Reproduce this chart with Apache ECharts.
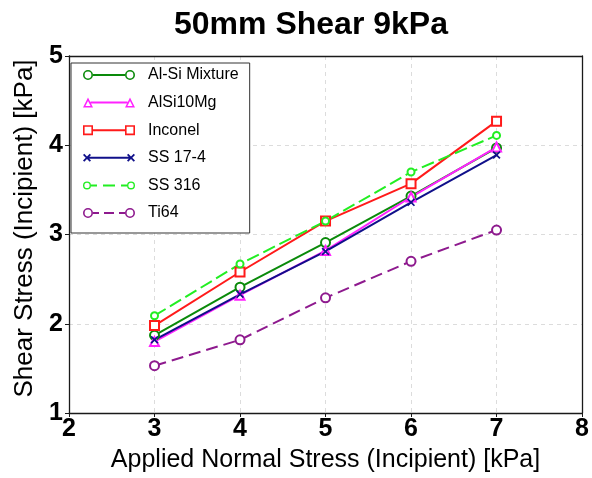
<!DOCTYPE html>
<html>
<head>
<meta charset="utf-8">
<script src="https://cdn.jsdelivr.net/npm/echarts@6/dist/echarts.min.js"></script>
<style>
html,body{margin:0;padding:0;background:#fff;}
#chart{width:592px;height:478px;}
</style>
</head>
<body>
<div id="chart"></div>
<script>
// ---- data ----
const xValues = [3, 4, 5, 6, 7];
const seriesNames = ['Al-Si Mixture', 'AlSi10Mg', 'Inconel', 'SS 17-4', 'SS 316', 'Ti64'];
const alSiMixture = [1.87, 2.41, 2.91, 3.43, 3.97];
const alSi10Mg    = [1.80, 2.32, 2.82, 3.42, 3.98];
const inconel     = [1.98, 2.58, 3.15, 3.57, 4.27];
const ss174       = [1.82, 2.33, 2.81, 3.36, 3.89];
const ss316       = [2.09, 2.67, 3.15, 3.70, 4.11];
const ti64        = [1.53, 1.82, 2.29, 2.70, 3.05];
const xTicks = [2, 3, 4, 5, 6, 7, 8];
const yTicks = [1, 2, 3, 4, 5];

const FONT = "'Liberation Sans', Arial, Helvetica, sans-serif";
const colors = ['#0a8a0a', '#ff22ff', '#ff1a1a', '#10108a', '#22ee22', '#8e1a8e'];

function pairs(vals) { return xValues.map((x, i) => [x, vals[i]]); }

// legend icon paths (width 52)
function ring(cx, cy, r, t) {
  const ri = r - t;
  return `M${cx - r},${cy}A${r},${r} 0 1,1 ${cx + r},${cy}A${r},${r} 0 1,1 ${cx - r},${cy}Z` +
         `M${cx - ri},${cy}A${ri},${ri} 0 1,0 ${cx + ri},${cy}A${ri},${ri} 0 1,0 ${cx - ri},${cy}Z`;
}
function bar(x1, x2, cy, h) { return `M${x1},${cy - h / 2}H${x2}V${cy + h / 2}H${x1}Z`; }
function sq(cx, cy, s, t) {
  const a = s / 2, b = a - t;
  return `M${cx - a},${cy - a}H${cx + a}V${cy + a}H${cx - a}Z` +
         `M${cx - b},${cy - b}V${cy + b}H${cx + b}V${cy - b}Z`;
}
function tri(cx) {
  return `M${cx - 5},10L${cx},0L${cx + 5},10Z` +
         `M${cx - 2.57},8.5L${cx + 2.57},8.5L${cx},3.35Z`;
}
function cross(cx, cy, s, t) {
  const a = s / 2, d = t / 1.414;
  return `M${cx - a},${cy - a + d}L${cx - a + d},${cy - a}L${cx},${cy - d}L${cx + a - d},${cy - a}L${cx + a},${cy - a + d}` +
         `L${cx + d},${cy}L${cx + a},${cy + a - d}L${cx + a - d},${cy + a}L${cx},${cy + d}L${cx - a + d},${cy + a}` +
         `L${cx - a},${cy + a - d}L${cx - d},${cy}Z`;
}
const legendIcons = [
  'path://' + ring(5, 5, 5, 1.6) + bar(10, 42, 5, 2) + ring(47, 5, 5, 1.6),
  'path://' + tri(5) + bar(7.5, 44.5, 5, 2) + tri(47),
  'path://' + sq(5, 5, 10, 1.6) + bar(10, 42, 5, 2) + sq(47, 5, 10, 1.6),
  'path://' + cross(4, 5, 8, 1.8) + bar(4, 48, 5, 2) + cross(48, 5, 8, 1.8),
  'path://' + ring(4, 5, 4, 1.4) + bar(8, 14, 5, 2) + bar(20, 32, 5, 2) + bar(38, 44, 5, 2) + ring(48, 5, 4, 1.4),
  'path://' + ring(5, 5, 5, 1.6) + bar(10, 16, 5, 2) + bar(21, 31, 5, 2) + bar(36, 42, 5, 2) + ring(47, 5, 5, 1.6)
];

const xMarker = 'path://M0,1.5L1.5,0L5,3.5L8.5,0L10,1.5L6.5,5L10,8.5L8.5,10L5,6.5L1.5,10L0,8.5L3.5,5Z';
const seriesData = [alSiMixture, alSi10Mg, inconel, ss174, ss316, ti64];
const symbols = ['emptyCircle', 'emptyTriangle', 'emptyRect', xMarker, 'emptyCircle', 'emptyCircle'];
const symbolSizes = [9, 9, 9, 8, 7, 9];
const dashes = ['solid', 'solid', 'solid', 'solid', [13, 5], [12, 6]];

const AX = '#1a1a1a';
const chart = echarts.init(document.getElementById('chart'), null, { renderer: 'canvas' });
const frameAxis = {
  show: true,
  axisLine: { show: true, lineStyle: { color: AX, width: 1.3 } },
  axisTick: { show: false }, axisLabel: { show: false }, splitLine: { show: false },
  z: 5
};
const option = {
  backgroundColor: '#fff',
  animation: false,
  title: {
    text: '50mm Shear 9kPa',
    left: 174, top: 9, padding: 0,
    textStyle: { fontFamily: FONT, fontWeight: 'bold', fontSize: 32, color: '#000' }
  },
  grid: { left: 69, right: 8, top: 56, bottom: 61 },
  legend: {
    orient: 'vertical', align: 'left',
    left: 71, top: 63,
    padding: [4, 11, 12, 12],
    itemWidth: 52, itemHeight: 14, itemGap: 11.6,
    backgroundColor: '#fff', borderColor: '#333', borderWidth: 1,
    textStyle: { fontFamily: FONT, fontSize: 16, color: '#000', padding: [0, 0, 0, 8] },
    data: seriesNames.map((n, i) => ({
      name: n, icon: legendIcons[i],
      itemStyle: { color: colors[i], borderColor: colors[i], borderWidth: 0 }
    }))
  },
  xAxis: [{
    type: 'value', min: xTicks[0], max: xTicks[xTicks.length - 1], interval: 1,
    name: 'Applied Normal Stress (Incipient) [kPa]',
    nameLocation: 'middle', nameGap: 35,
    nameTextStyle: { fontFamily: FONT, fontSize: 25, color: '#000' },
    axisLine: { show: true, lineStyle: { color: AX, width: 1.3 } },
    axisTick: { show: true, length: 4, lineStyle: { color: AX } },
    axisLabel: { fontFamily: FONT, fontWeight: 'bold', fontSize: 25, color: '#000', margin: 4,
      formatter: v => String(v) },
    splitLine: { show: true, lineStyle: { color: '#dcdcdc', type: [4, 4], width: 1 } }
  }, Object.assign({ type: 'value', position: 'top', min: xTicks[0], max: xTicks[xTicks.length - 1] }, frameAxis)],
  yAxis: [{
    type: 'value', min: yTicks[0], max: yTicks[yTicks.length - 1], interval: 1,
    name: 'Shear Stress (Incipient) [kPa]',
    nameLocation: 'middle', nameGap: 30,
    nameTextStyle: { fontFamily: FONT, fontSize: 26, color: '#000', padding: [0, 0, 0, 12] },
    axisLine: { show: true, lineStyle: { color: AX, width: 1.3 } },
    axisTick: { show: true, length: 4, lineStyle: { color: AX } },
    axisLabel: { fontFamily: FONT, fontWeight: 'bold', fontSize: 25, color: '#000', margin: 6,
      formatter: v => String(v) },
    splitLine: { show: true, lineStyle: { color: '#dcdcdc', type: [4, 4], width: 1 } }
  }, Object.assign({ type: 'value', position: 'right', min: yTicks[0], max: yTicks[yTicks.length - 1] }, frameAxis)],
  series: seriesNames.map((n, i) => ({
    name: n, type: 'line',
    xAxisIndex: 0, yAxisIndex: 0,
    data: pairs(seriesData[i]),
    symbol: symbols[i], symbolSize: symbolSizes[i],
    showAllSymbol: true,
    lineStyle: { color: colors[i], width: 2, type: dashes[i] },
    itemStyle: { color: colors[i], borderWidth: 1.6 },
    emphasis: { disabled: true }
  }))
};
chart.setOption(option);
</script>
</body>
</html>
